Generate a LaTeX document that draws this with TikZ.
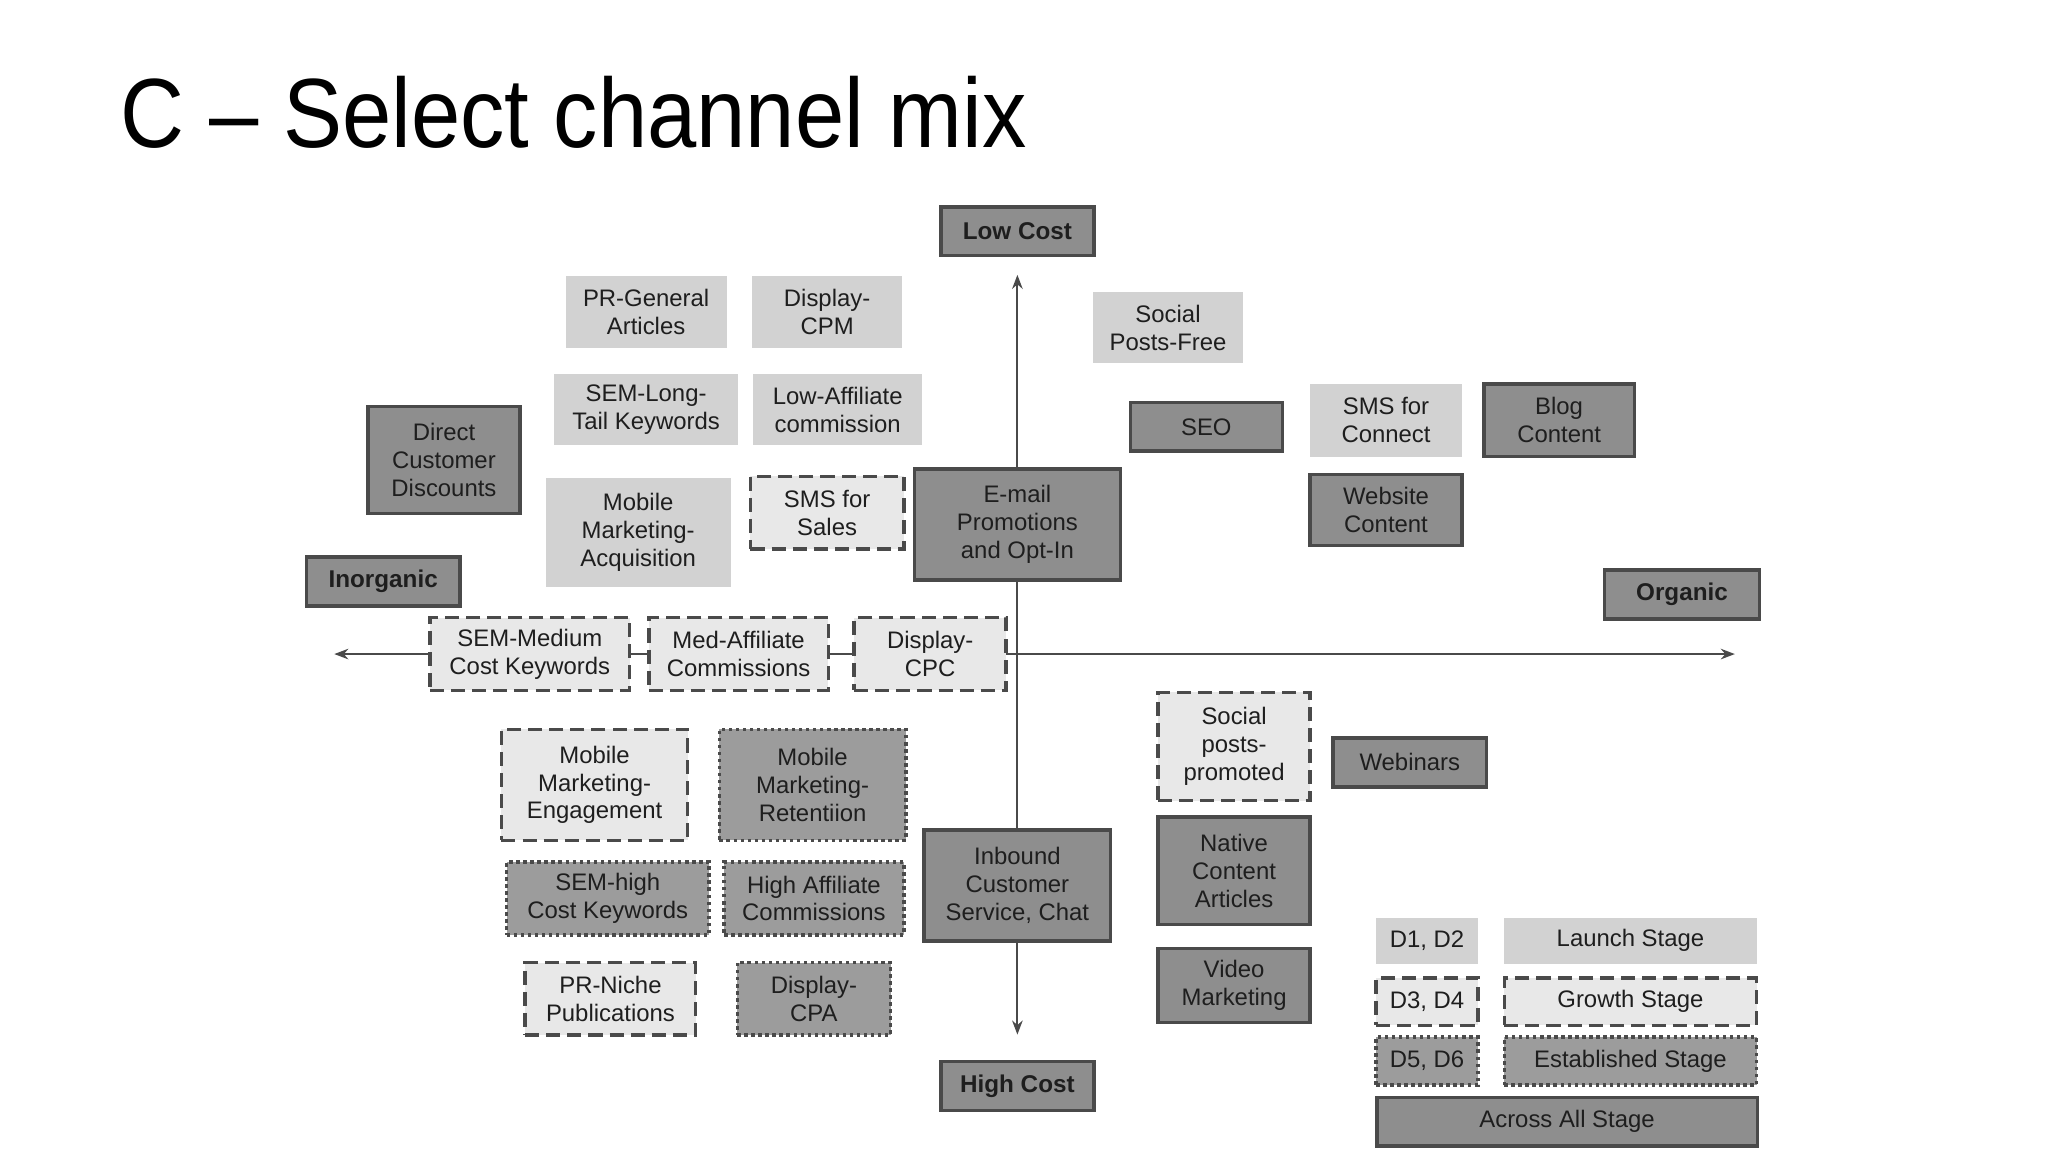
\documentclass[tikz,border=0pt]{standalone}
\usepackage{fontspec}
\setmainfont{Liberation Sans}
\usetikzlibrary{arrows.meta}
\def\u{0.013213cm}
\definecolor{dk}{HTML}{8E8E8E}
\definecolor{lt}{HTML}{D2D2D2}
\definecolor{ds}{HTML}{E8E8E8}
\definecolor{dt}{HTML}{9C9C9C}
\definecolor{ln}{HTML}{4A4A4A}
\definecolor{tx}{HTML}{1E1E1E}
\tikzset{
 b/.style={align=center,inner sep=0pt,text=tx,font=\fontsize{6.8}{7.9}\selectfont},
 dark/.style={b,fill=dk,draw=ln,line width=1pt},
 light/.style={b,fill=lt,draw=none},
 dsh/.style={b,fill=ds,draw=ln,line width=1pt,dash pattern=on 4pt off 2pt},
 dott/.style={b,fill=dt,draw=ln,line width=1pt,dash pattern=on 1pt off 1pt},
 ax/.style={line width=0.6pt,ln,-{Stealth[length=4pt,width=3pt]}},
 sz/.style 2 args={minimum width=#1*\u,minimum height=#2*\u},
 bf/.style={font=\fontsize{6.9}{8}\selectfont\bfseries}
}
\begin{document}
\begin{tikzpicture}[x=0.013213cm,y=-0.013213cm]
\useasboundingbox (0,0) rectangle (1550,872);
\fill[white] (0,0) rectangle (1550,872);
\node[anchor=base west,inner sep=0pt,transform shape,xscale=0.9,font=\fontsize{28}{30}\selectfont] (title) at (91,112) {C -- Select channel mix};
\coordinate (c) at (770,495);
\coordinate (top) at (770,208);
\coordinate (bot) at (770,783);
\coordinate (lft) at (253,495);
\coordinate (rgt) at (1313,495);
\draw[ax] (c) -- (top);
\draw[ax] (c) -- (bot);
\draw[ax] (c) -- (lft);
\draw[ax] (c) -- (rgt);
\node[dark,sz={116}{37},bf] (low) at (770,175) {Low Cost};
\node[dark,sz={116}{37},bf] (high) at (770,822) {High Cost};
\node[dark,sz={116}{37},bf] (inorg) at (290,440) {Inorganic};
\node[dark,sz={117}{37},bf] (org) at (1273,450) {Organic};
\node[light,sz={122}{55}] (prg) at (489,236) {PR-General\\Articles};
\node[light,sz={114}{55}] (dcpm) at (626,236) {Display-\\CPM};
\node[light,sz={139}{54}] (seml) at (489,310) {SEM-Long-\\Tail Keywords};
\node[light,sz={128}{54}] (laff) at (634,310) {Low-Affiliate\\commission};
\node[dark,sz={115}{81}] (dcd) at (336,348) {Direct\\Customer\\Discounts};
\node[light,sz={140}{82}] (mma) at (483,403) {Mobile\\Marketing-\\Acquisition};
\node[dsh,sz={116}{55}] (smss) at (626,388) {SMS for\\Sales};
\node[dark,sz={156}{84}] (email) at (770,397) {E-mail\\Promotions\\and Opt-In};
\node[light,sz={113}{54}] (spf) at (884,248) {Social\\Posts-Free};
\node[dark,sz={115}{37}] (seo) at (913,323) {SEO};
\node[light,sz={115}{55}] (smsc) at (1049,318) {SMS for\\Connect};
\node[dark,sz={114}{55}] (blog) at (1180,318) {Blog\\Content};
\node[dark,sz={115}{54}] (web) at (1049,386) {Website\\Content};
\node[dsh,sz={151}{55}] (semm) at (401,495) {SEM-Medium\\Cost Keywords};
\node[dsh,sz={136}{55}] (maff) at (559,495) {Med-Affiliate\\Commissions};
\node[dsh,sz={115}{55}] (dcpc) at (704,495) {Display-\\CPC};
\node[dsh,sz={141}{84}] (mme) at (450,594) {Mobile\\Marketing-\\Engagement};
\node[dott,sz={141}{84}] (mmr) at (615,594) {Mobile\\Marketing-\\Retentiion};
\node[dott,sz={153}{55}] (semh) at (460,680) {SEM-high\\Cost Keywords};
\node[dott,sz={136}{55}] (haff) at (616,680) {High Affiliate\\Commissions};
\node[dsh,sz={129}{55}] (prn) at (462,756) {PR-Niche\\Publications};
\node[dott,sz={116}{55}] (dcpa) at (616,756) {Display-\\CPA};
\node[dark,sz={141}{84}] (inb) at (770,670) {Inbound\\Customer\\Service, Chat};
\node[dsh,sz={115}{82}] (spp) at (934,565) {Social\\posts-\\promoted};
\node[dark,sz={116}{37}] (webi) at (1067,577) {Webinars};
\node[dark,sz={115}{81}] (nca) at (934,659) {Native\\Content\\Articles};
\node[dark,sz={115}{56}] (vid) at (934,746) {Video\\Marketing};
\node[light,sz={77}{35}] (d12) at (1080,712) {D1, D2};
\node[light,sz={191}{35}] (ls) at (1234,712) {Launch Stage};
\node[dsh,sz={77}{36}] (d34) at (1080,758) {D3, D4};
\node[dsh,sz={191}{36}] (gs) at (1234,758) {Growth Stage};
\node[dott,sz={77}{36}] (d56) at (1080,803) {D5, D6};
\node[dott,sz={191}{36}] (es) at (1234,803) {Established Stage};
\node[dark,sz={288}{37}] (all) at (1186,849) {Across All Stage};
\end{tikzpicture}
\end{document}
